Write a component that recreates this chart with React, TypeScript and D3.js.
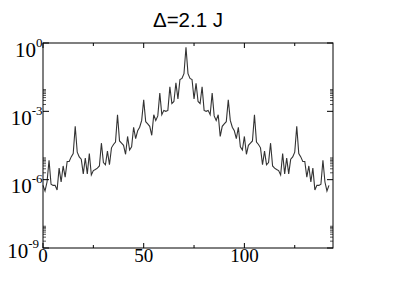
import React from "react";
import * as d3 from "d3";

// weight on each site of the chain
const weight = [
  5.6e-7, 3.2e-7, 7.9e-7, 7.1e-6, 6.3e-7, 5.6e-7, 5.6e-7, 3.5e-7, 3.2e-6, 7.9e-7,
  4.0e-6, 1.3e-6, 6.3e-6, 6.3e-6, 1.0e-5, 1.4e-5, 2.2e-4, 1.6e-5, 1.0e-5, 7.9e-6,
  1.8e-6, 8.9e-6, 1.8e-6, 1.4e-5, 1.6e-6, 2.5e-6, 2.8e-6, 3.2e-6, 4.0e-6, 4.0e-5,
  5.6e-6, 4.5e-6, 1.8e-5, 4.5e-6, 2.5e-5, 3.5e-5, 4.5e-5, 7.1e-4, 5.0e-5, 4.0e-5,
  3.2e-5, 1.3e-5, 7.9e-5, 2.0e-5, 2.8e-5, 2.0e-4, 6.3e-5, 1.4e-4, 2.0e-4, 4.0e-4,
  3.2e-3, 3.5e-4, 2.8e-4, 2.2e-4, 8.9e-5, 7.1e-4, 4.0e-4, 6.3e-4, 6.3e-3, 7.1e-4,
  1.1e-3, 1.0e-3, 1.1e-3, 1.2e-2, 2.2e-3, 2.7e-3, 1.8e-2, 3.5e-3, 2.5e-2, 2.8e-2,
  4.5e-2, 0.65, 4.5e-2, 2.8e-2, 2.5e-2, 3.5e-3, 1.7e-2, 2.7e-3, 2.2e-3, 1.2e-2,
  1.1e-3, 1.0e-3, 1.1e-3, 7.1e-4, 6.3e-3, 6.3e-4, 4.0e-4, 7.1e-4, 7.9e-5, 2.2e-4,
  2.8e-4, 3.5e-4, 3.2e-3, 4.0e-4, 2.0e-4, 1.4e-4, 6.3e-5, 2.0e-4, 2.8e-5, 2.0e-5,
  7.9e-5, 1.3e-5, 3.2e-5, 4.0e-5, 5.0e-5, 7.1e-4, 4.5e-5, 3.5e-5, 2.5e-5, 4.5e-6,
  1.8e-5, 4.5e-6, 5.6e-6, 4.0e-5, 4.0e-6, 3.2e-6, 2.8e-6, 2.5e-6, 1.6e-6, 1.4e-5,
  1.8e-6, 8.9e-6, 1.8e-6, 7.9e-6, 1.0e-5, 1.6e-5, 2.2e-4, 1.4e-5, 1.0e-5, 6.3e-6,
  6.3e-6, 1.3e-6, 4.0e-6, 7.9e-7, 3.2e-6, 3.5e-7, 5.6e-7, 5.6e-7, 6.3e-7, 7.1e-6,
  7.9e-7, 3.2e-7, 5.6e-7,
];

const xMajor = [0, 50, 100];
const xMinor = [25, 75, 125];
const yMajor = [1e0, 1e-3, 1e-6, 1e-9];
const yLabelExp = ["0", "-3", "-6", "-9"];
const yMinorDecades = [1e-3, 1e-6, 1e-9];
const yMinorMantissa = [2, 3, 4, 5, 6, 7, 8, 9];
const title = "Δ=2.1 J";

const W = 399;
const H = 282;
const margin = { top: 43, right: 66, bottom: 34, left: 43 };

export default function App() {
  const x = d3
    .scaleLinear()
    .domain([0, 144])
    .range([margin.left, W - margin.right]);
  const y = d3
    .scaleLog()
    .domain([1e-9, 1e0])
    .range([H - margin.bottom, margin.top]);

  const line = d3
    .line<number>()
    .x((d, i) => x(i))
    .y((d) => y(d));

  const x0 = x.range()[0];
  const x1 = x.range()[1];
  const y0 = y.range()[0];
  const y1 = y.range()[1];

  const yMinor = yMinorDecades.flatMap((dec) =>
    yMinorMantissa.map((m) => m * dec)
  );

  const serif = "'Liberation Serif', 'Times New Roman', serif";

  return (
    <div style={{ position: "fixed", left: 0, top: 0 }}>
      <svg width={W} height={H} style={{ display: "block", background: "#fff" }}>
        <text
          x={(x0 + x1) / 2}
          y={27}
          textAnchor="middle"
          fontFamily="'Liberation Sans', Arial, sans-serif"
          fontSize={20.5}
          fill="#000"
        >
          {title}
        </text>

        <path d={line(weight) || ""} fill="none" stroke="#333" strokeWidth={1.1} />

        {/* x ticks, bottom and top, pointing in */}
        {xMajor.concat(xMinor).map((t) => {
          const len = xMajor.includes(t) ? 5 : 3;
          return (
            <g key={"xt" + t} stroke="#000" strokeWidth={1}>
              <line x1={x(t)} x2={x(t)} y1={y0} y2={y0 - len} />
              <line x1={x(t)} x2={x(t)} y1={y1} y2={y1 + len} />
            </g>
          );
        })}

        {/* y ticks, left and right */}
        {yMajor.map((t) => (
          <g key={"ym" + t} stroke="#000" strokeWidth={1}>
            <line x1={x0} x2={x0 + 6} y1={y(t)} y2={y(t)} />
            <line x1={x1} x2={x1 - 6} y1={y(t)} y2={y(t)} />
          </g>
        ))}
        {yMinor.map((t) => (
          <g key={"yn" + t} stroke="#555" strokeWidth={1}>
            <line x1={x0} x2={x0 + 3} y1={y(t)} y2={y(t)} />
            <line x1={x1} x2={x1 - 3} y1={y(t)} y2={y(t)} />
          </g>
        ))}

        <rect
          x={x0}
          y={y1}
          width={x1 - x0}
          height={y0 - y1}
          fill="none"
          stroke="#000"
          strokeWidth={1}
        />

        {xMajor.map((t) => (
          <text
            key={"xl" + t}
            x={x(t)}
            y={y0 + 14}
            textAnchor="middle"
            fontFamily={serif}
            fontSize={19}
            fill="#000"
          >
            {t}
          </text>
        ))}

        {yMajor.map((t, i) => (
          <text
            key={"yl" + t}
            x={i === yMajor.length - 1 ? x0 - 4 : x0 - 0.5}
            y={Math.min(y(t) + 13.5, y0 + 10)}
            textAnchor="end"
            fontFamily={serif}
            fontSize={21}
            fill="#000"
          >
            10
            <tspan dy={-10} fontSize={13}>
              {yLabelExp[i]}
            </tspan>
          </text>
        ))}
      </svg>
    </div>
  );
}
